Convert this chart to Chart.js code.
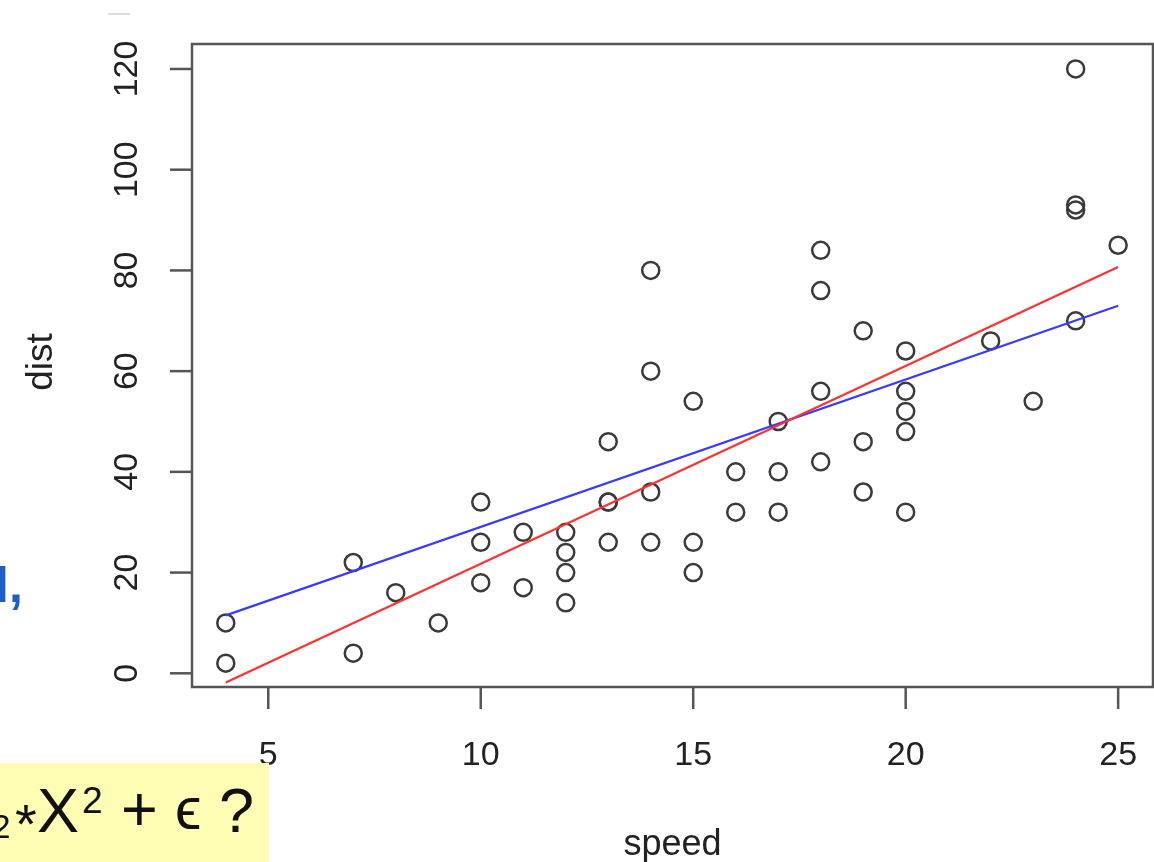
<!DOCTYPE html>
<html>
<head>
<meta charset="utf-8">
<script src="https://cdn.jsdelivr.net/npm/chart.js@4/dist/chart.umd.min.js"></script>
<style>
  html, body { margin: 0; background: #fff; overflow: hidden; }
  #wrap { position: relative; width: 1154px; height: 862px; overflow: hidden; font-family: "Liberation Sans", Arial, sans-serif; }
  #carsChart { display: block; }
  #slideWord { position: absolute; left: -5px; top: 556px; font-size: 50px; font-weight: bold; color: #1c5fc6; }
  #formulaBox { position: absolute; left: 0; top: 763px; width: 269px; height: 99px; background: #fffcb4; overflow: hidden; color: #111; }
  #formulaBox span { position: absolute; line-height: 1; white-space: nowrap; }
  #dash { position: absolute; left: 108px; top: 13px; width: 22px; height: 2px; background: #ddd; }
</style>
</head>
<body>
<div id="wrap">
  <canvas id="carsChart" width="1154" height="862"></canvas>
  <div id="dash"></div>
  <div id="slideWord">l,</div>
  <div id="formulaBox">
    <span style="left:-8px; top:47px; font-size:33px;">2</span>
    <span style="left:15px; top:33px; font-size:56px;">*</span>
    <span style="left:37px; top:16px; font-size:63px;">X</span>
    <span style="left:82px; top:19px; font-size:37px;">2</span>
    <span style="left:121px; top:15px; font-size:63px;">+</span>
    <span style="left:175px; top:16px; font-size:60px;">ϵ</span>
    <span style="left:219px; top:16px; font-size:63px;">?</span>
  </div>
</div>
<script>
// cars data (speed vs stopping distance)
const speed = [4, 4, 7, 7, 8, 9, 10, 10, 10, 11, 11, 12, 12, 12, 12, 13, 13, 13, 13, 14,
               14, 14, 14, 15, 15, 15, 16, 16, 17, 17, 17, 18, 18, 18, 18, 19, 19, 19, 20, 20,
               20, 20, 20, 22, 23, 24, 24, 24, 24, 25];
const dist = [2, 10, 4, 22, 16, 10, 18, 26, 34, 17, 28, 14, 20, 24, 28, 26, 34, 34, 46, 26,
              36, 60, 80, 20, 26, 54, 32, 40, 32, 40, 50, 42, 56, 76, 84, 36, 46, 68, 32, 48,
              52, 56, 64, 66, 54, 70, 92, 93, 120, 85];

// fitted lines, read at the ends of the speed range
const lineSpeed = [4, 25];
const redFit = [-1.85, 80.7];
const blueFit = [11.5, 73];

const xTicks = [5, 10, 15, 20, 25];
const yTicks = [0, 20, 40, 60, 80, 100, 120];

const toPoints = (xs, ys) => xs.map((x, i) => ({ x: x, y: ys[i] }));

// R-style box, ticks and labels
const rFrame = {
    id: 'rFrame',
    afterDraw(chart) {
        const ctx = chart.ctx;
        const area = chart.chartArea;
        const xs = chart.scales.x;
        const ys = chart.scales.y;
        ctx.save();
        ctx.strokeStyle = '#555';
        ctx.lineWidth = 2.5;
        ctx.strokeRect(area.left, area.top, area.right - area.left, area.bottom - area.top);

        ctx.fillStyle = '#222';
        ctx.font = '34px "Liberation Sans", Arial, sans-serif';
        ctx.textAlign = 'center';
        ctx.textBaseline = 'middle';

        xTicks.forEach(v => {
            const px = xs.getPixelForValue(v);
            ctx.beginPath();
            ctx.moveTo(px, area.bottom);
            ctx.lineTo(px, area.bottom + 22);
            ctx.stroke();
            ctx.fillText(String(v), px, 756);
        });

        yTicks.forEach(v => {
            const py = ys.getPixelForValue(v);
            ctx.beginPath();
            ctx.moveTo(area.left - 22, py);
            ctx.lineTo(area.left, py);
            ctx.stroke();
            ctx.save();
            ctx.translate(128, py);
            ctx.rotate(-Math.PI / 2);
            ctx.fillText(String(v), 0, 0);
            ctx.restore();
        });

        // axis titles
        ctx.textBaseline = 'alphabetic';
        ctx.font = '36px "Liberation Sans", Arial, sans-serif';
        ctx.fillText('speed', (area.left + area.right) / 2, 855);
        ctx.save();
        ctx.font = '37px "Liberation Sans", Arial, sans-serif';
        ctx.translate(52, 362);
        ctx.rotate(-Math.PI / 2);
        ctx.fillText('dist', 0, 0);
        ctx.restore();
        ctx.restore();
    }
};

const ctx = document.getElementById('carsChart').getContext('2d');

new Chart(ctx, {
    type: 'scatter',
    data: {
        datasets: [
            {
                label: 'cars',
                data: toPoints(speed, dist),
                pointStyle: 'circle',
                pointRadius: 8.5,
                borderWidth: 2.5,
                borderColor: '#3a3a3a',
                backgroundColor: 'rgba(0,0,0,0)',
                order: 2
            },
            {
                label: 'red fit',
                data: toPoints(lineSpeed, redFit),
                showLine: true,
                pointRadius: 0,
                borderColor: '#ff3030',
                borderWidth: 2.2,
                order: 1
            },
            {
                label: 'blue fit',
                data: toPoints(lineSpeed, blueFit),
                showLine: true,
                pointRadius: 0,
                borderColor: '#3a3aff',
                borderWidth: 2.2,
                order: 1
            }
        ]
    },
    options: {
        responsive: false,
        animation: false,
        layout: {
            autoPadding: false,
            padding: { left: 192, top: 44, right: 1, bottom: 175 }
        },
        plugins: {
            legend: { display: false },
            tooltip: { enabled: false }
        },
        scales: {
            x: { type: 'linear', display: false, min: 3.205, max: 25.82 },
            y: { type: 'linear', display: false, min: -2.72, max: 124.96 }
        }
    },
    plugins: [rFrame]
});
</script>
</body>
</html>
